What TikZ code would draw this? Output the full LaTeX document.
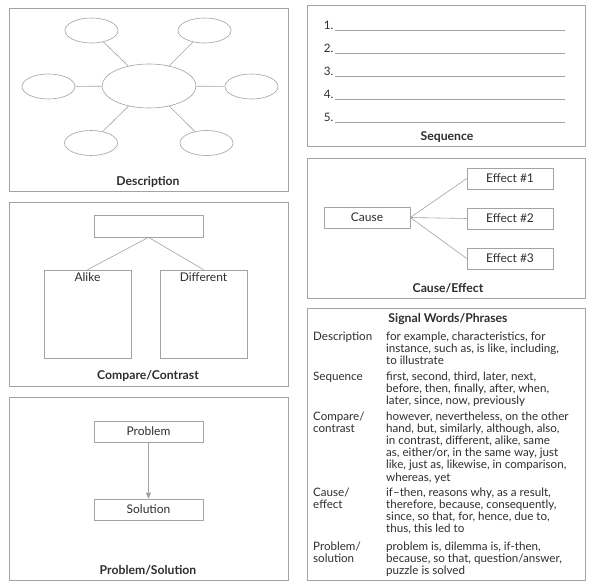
\documentclass[tikz,border=0pt]{standalone}
\usepackage{fontspec}
\setmainfont{Lato}
\usepackage{tikz}
\usetikzlibrary{arrows.meta,positioning,shapes.geometric}
\definecolor{ink}{HTML}{2E2E2E}
\definecolor{rulegray}{HTML}{A3A3A3}

\begin{document}
\begin{tikzpicture}[
    x=1pt, y=-1pt,
    panel/.style={draw=rulegray, line width=0.7pt},
    bubble/.style={ellipse, draw=rulegray, line width=0.6pt, minimum width=53pt, minimum height=25pt, inner sep=0pt},
    box/.style={draw=rulegray, line width=0.6pt, minimum width=86pt, minimum height=21pt, inner sep=0pt, font=\fontsize{12}{13}\selectfont, text=ink},
    link/.style={draw=rulegray, line width=0.6pt},
    arr/.style={-{Triangle[length=6pt, width=5pt]}, draw=rulegray, fill=rulegray, line width=0.6pt},
    title/.style={font=\fontsize{12.2}{13}\selectfont\bfseries, text=ink},
    term/.style={anchor=north west, align=left, inner sep=0pt, text=ink, font=\fontsize{11.6}{12.2}\selectfont}
]
\useasboundingbox[fill=white] (0,0) rectangle (591,586);

% panels
\draw[panel] (9,8) rectangle (288,191);
\draw[panel] (9,202) rectangle (288,386);
\draw[panel] (9,397) rectangle (288,580);
\draw[panel] (307,5) rectangle (585,146);
\draw[panel] (307,158) rectangle (585,298);
\draw[panel] (307,308) rectangle (585,580);

% Description
\node[bubble, minimum width=94pt, minimum height=44pt] (hub) at (149,86) {};
\node[bubble] (tl) at (91.5,30.5) {};
\node[bubble] (tr) at (204.5,30.5) {};
\node[bubble] (ml) at (48.5,86.5) {};
\node[bubble] (mr) at (251.5,86.5) {};
\node[bubble] (bl) at (91,143) {};
\node[bubble] (br) at (206.5,143) {};
\foreach \b in {tl,tr,ml,mr,bl,br}
    \draw[link] (hub) -- (\b);
\node[title] (desc) at (148,182) {Description};

% Compare/Contrast
\node[box, minimum width=109pt, minimum height=22pt] (topic) at (148.5,226) {};
\node[box, minimum width=87pt, minimum height=88pt,
      label={[anchor=north, inner sep=2.5pt, text=ink, font=\fontsize{12}{13}\selectfont]north:Alike}] (alike) at (87.5,314) {};
\node[box, minimum width=87pt, minimum height=88pt,
      label={[anchor=north, inner sep=2.5pt, text=ink, font=\fontsize{12}{13}\selectfont]north:Different}] (diff) at (203.5,314) {};
\draw[link] (topic.south) -- (alike.north);
\draw[link] (topic.south) -- (diff.north);
\node[title] (comp) at (148,376) {Compare/Contrast};

% Problem/Solution
\node[box, minimum width=109pt] (prob) at (148.5,431.5) {Problem};
\node[box, minimum width=109pt] (sol) at (148.5,509.5) {Solution};
\draw[arr] (prob) -- (sol);
\node[title] (ps) at (148,570) {Problem/Solution};

% Sequence
\foreach \i/\y in {1/29.5,2/52.5,3/75.5,4/98.5,5/121.5} {
    \node[term, anchor=base east] (n\i) at (333.5,\y) {\i.};
    \draw[link, line width=0.5pt] (335,\y+0.5) -- (565,\y+0.5);
}
\node[title] (seq) at (447,137) {Sequence};

% Cause/Effect
\node[box] (cause) at (367,217.5) {Cause};
\node[box] (e1) at (510,178.5) {Effect \#1};
\node[box] (e2) at (510,218.5) {Effect \#2};
\node[box] (e3) at (510,258.5) {Effect \#3};
\foreach \e in {e1,e2,e3}
    \draw[link] (cause.east) -- (\e.west);
\node[title] (ce) at (448,288) {Cause/Effect};

% Signal words
\node[title] (sig) at (448,319) {Signal Words/Phrases};
\node[term] (t1) at (313,331.6) {Description};
\node[term] (w1) at (386,331.4) {for example, characteristics, for\\instance, such as, is like, including,\\to illustrate};
\node[term] (t2) at (313,371.6) {Sequence};
\node[term] (w2) at (386,371.4) {first, second, third, later, next,\\before, then, finally, after, when,\\later, since, now, previously};
\node[term] (t3) at (313,411.6) {Compare/\\contrast};
\node[term] (w3) at (386,411.4) {however, nevertheless, on the other\\hand, but, similarly, although, also,\\in contrast, different, alike, same\\as, either/or, in the same way, just\\like, just as, likewise, in comparison,\\whereas, yet};
\node[term] (t4) at (313,487.6) {Cause/\\effect};
\node[term] (w4) at (386,487.4) {if--then, reasons why, as a result,\\therefore, because, consequently,\\since, so that, for, hence, due to,\\thus, this led to};
\node[term] (t5) at (313,541.6) {Problem/\\solution};
\node[term] (w5) at (386,541.4) {problem is, dilemma is, if-then,\\because, so that, question/answer,\\puzzle is solved};
\end{tikzpicture}
\end{document}
